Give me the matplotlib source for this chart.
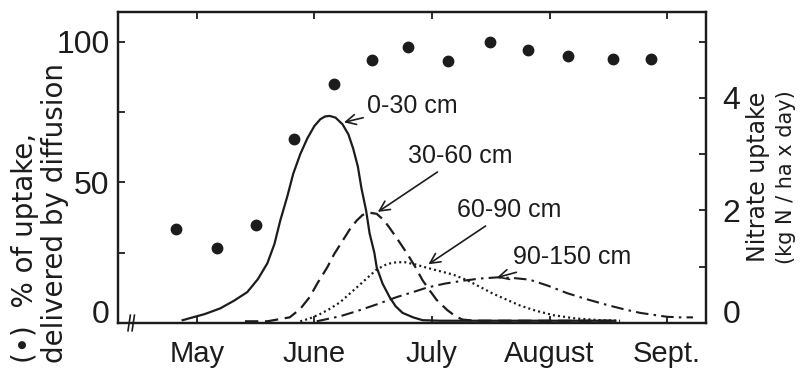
import matplotlib.pyplot as plt

plt.rcParams['font.family'] = ['Liberation Sans Narrow', 'Liberation Sans', 'DejaVu Sans']

# x axis in months (5 = May ... 9 = Sept.)
month_ticks = [5, 6, 7, 8, 9]
month_names = ['May', 'June', 'July', 'August', 'Sept.']

# (•) % of uptake delivered by diffusion
dot_x = [4.82, 5.17, 5.50, 5.83, 6.17, 6.49, 6.80, 7.14, 7.49, 7.82, 8.16, 8.54, 8.86]
dot_pct = [33.5, 26.5, 35, 65.5, 85, 93.5, 98, 93, 100, 97, 95, 94, 94]

# nitrate uptake per soil layer (kg N / ha x day)
x_0_30 = [4.88, 5.07, 5.20, 5.32, 5.43, 5.52, 5.60, 5.66, 5.71, 5.77, 5.82, 5.88,
          5.94, 6.00, 6.05, 6.09, 6.13, 6.18, 6.24, 6.29, 6.33, 6.37, 6.40, 6.44,
          6.47, 6.51, 6.53, 6.58, 6.64, 6.69, 6.75, 6.84, 6.92, 7.07, 7.75, 8.56]
up_0_30 = [0.05, 0.16, 0.26, 0.40, 0.55, 0.78, 1.06, 1.40, 1.82, 2.25, 2.65, 3.00,
           3.28, 3.50, 3.62, 3.67, 3.68, 3.65, 3.53, 3.35, 3.10, 2.78, 2.40, 2.00,
           1.59, 1.25, 0.99, 0.70, 0.46, 0.30, 0.18, 0.10, 0.05, 0.04, 0.04, 0.04]

x_30_60 = [5.41, 5.60, 5.79, 5.88, 5.96, 6.03, 6.11, 6.17, 6.24, 6.30, 6.36, 6.41,
           6.47, 6.53, 6.59, 6.64, 6.71, 6.79, 6.86, 6.92, 6.98, 7.04, 7.13, 7.20,
           7.26, 7.37, 8.56]
up_30_60 = [0.03, 0.03, 0.10, 0.25, 0.46, 0.72, 0.99, 1.23, 1.46, 1.66, 1.82, 1.92,
            1.96, 1.94, 1.83, 1.69, 1.48, 1.23, 0.99, 0.76, 0.58, 0.41, 0.23, 0.12,
            0.06, 0.04, 0.04]

x_60_90 = [5.88, 5.96, 6.05, 6.13, 6.22, 6.30, 6.36, 6.45, 6.53, 6.62, 6.70, 6.77,
           6.86, 6.96, 7.07, 7.18, 7.30, 7.41, 7.52, 7.64, 7.75, 7.88, 8.03, 8.22,
           8.43, 8.60]
up_60_90 = [0.03, 0.08, 0.16, 0.25, 0.37, 0.52, 0.63, 0.80, 0.95, 1.05, 1.08, 1.08,
            1.04, 0.98, 0.92, 0.86, 0.76, 0.64, 0.52, 0.41, 0.31, 0.22, 0.14, 0.08,
            0.05, 0.04]

x_90_150 = [6.02, 6.22, 6.36, 6.53, 6.70, 6.84, 6.96, 7.11, 7.26, 7.41, 7.55, 7.69,
            7.83, 7.99, 8.15, 8.32, 8.49, 8.64, 8.77, 8.90, 9.00, 9.11, 9.22]
up_90_150 = [0.03, 0.12, 0.21, 0.33, 0.46, 0.55, 0.63, 0.70, 0.75, 0.79, 0.81, 0.80,
             0.77, 0.66, 0.53, 0.42, 0.32, 0.24, 0.18, 0.14, 0.11, 0.10, 0.10]

ink = '#1c1c1c'

fig = plt.figure(figsize=(8.01, 3.75), dpi=100)
fig.set_facecolor('white')
ax = fig.add_axes([0.1473, 0.1387, 0.734, 0.829])
ax2 = ax.twinx()

ax.plot(dot_x, dot_pct, 'o', ms=7.5, color=ink, zorder=5)

ax2.plot(x_0_30, up_0_30, '-', color=ink, lw=1.6)
ax2.plot(x_30_60, up_30_60, color=ink, lw=1.6, dashes=(6, 3))
ax2.plot(x_60_90, up_60_90, color=ink, lw=1.6, linestyle=(0, (0.9, 1.4)))
ax2.plot(x_90_150, up_90_150, color=ink, lw=1.5, linestyle=(0, (6, 2.5, 1.2, 2.5)))

ax.set_xlim(4.33, 9.33)
ax.set_ylim(0, 110.5)
ax2.set_ylim(0, 5.525)

ax.set_xticks(month_ticks)
ax.set_xticklabels(month_names)
ax.set_yticks([0, 50, 100])
ax.set_yticks([25, 75], minor=True)
ax2.set_yticks([0, 2, 4])
ax2.set_yticks([1, 3, 5], minor=True)

ax.tick_params(axis='x', which='both', direction='in', top=True, bottom=True,
               length=5, width=1.3, color=ink, labelsize=21, pad=12, labelcolor=ink)
ax.tick_params(axis='y', which='both', direction='in', length=5, width=1.3,
               color=ink, labelsize=23, pad=6, labelcolor=ink)
ax2.tick_params(axis='y', which='both', direction='in', length=5, width=1.3,
                color=ink, labelsize=23, pad=12, labelcolor=ink)

# the zero labels sit a little above the axis line
ax.get_yticklabels()[0].set_va('baseline')
ax2.get_yticklabels()[0].set_va('baseline')

for a in (ax, ax2):
    for s in a.spines.values():
        s.set_linewidth(1.6)
        s.set_color(ink)

# axis break on the x axis
for dx in (0.019, 0.026):
    ax.plot([dx - 0.002, dx + 0.002], [-0.025, 0.025], transform=ax.transAxes,
            color=ink, lw=1.2, clip_on=False)

# layer annotations
ann_font = dict(fontsize=18, family=['Liberation Sans', 'DejaVu Sans'], color=ink,
                va='center', ha='left')
arrow = dict(arrowstyle='->', color=ink, lw=1.2, shrinkA=1, shrinkB=1)
ax2.annotate('0-30 cm', xy=(6.24, 3.56), xytext=(6.45, 3.86), arrowprops=arrow, **ann_font)
ax2.annotate('30-60 cm', xy=(6.53, 1.96), xytext=(6.80, 2.96), arrowprops=arrow, **ann_font)
ax2.annotate('60-90 cm', xy=(6.96, 1.03), xytext=(7.21, 2.00), arrowprops=arrow, **ann_font)
ax2.annotate('90-150 cm', xy=(7.54, 0.80), xytext=(7.69, 1.17), arrowprops=arrow, **ann_font)

# axis titles
lab = dict(family='DejaVu Sans', color=ink, rotation=90)
fig.text(0.031, 0.032, '(\u2022)  % of uptake,', ha='center', va='bottom', fontsize=20, **lab)
fig.text(0.069, 0.032, 'delivered by diffusion', ha='center', va='bottom', fontsize=20, **lab)
fig.text(0.946, 0.528, 'Nitrate uptake', ha='center', va='center', fontsize=17, **lab)
fig.text(0.981, 0.528, '(kg N / ha x day)', ha='center', va='center', fontsize=15, **lab)

fig.savefig('out.png', dpi=100, facecolor='white')
